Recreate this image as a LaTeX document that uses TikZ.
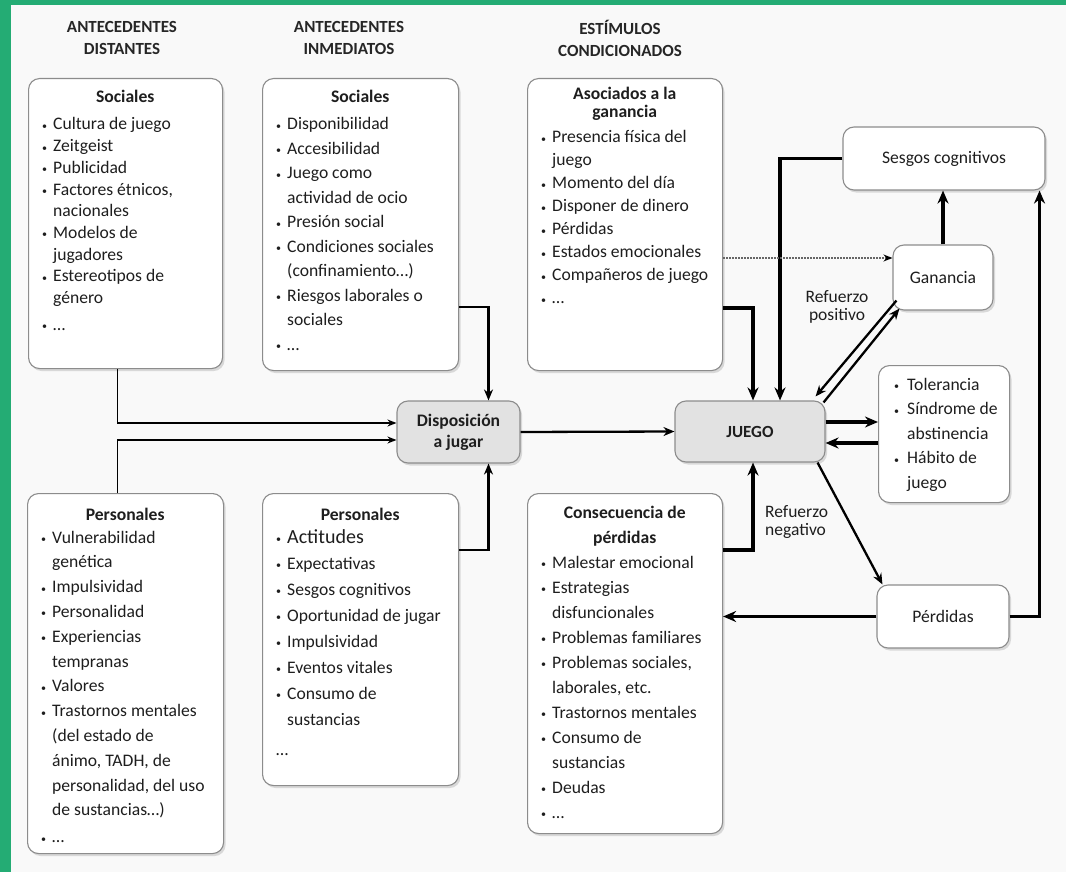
\documentclass[tikz,border=0pt]{standalone}
\usepackage{fontspec}
\setmainfont{Carlito}
\usetikzlibrary{arrows.meta,shadows,calc}
\definecolor{grn}{RGB}{36,172,116}
\definecolor{bgc}{RGB}{249,249,249}
\definecolor{bord}{RGB}{140,140,140}
\definecolor{txtc}{RGB}{30,30,30}
\definecolor{jfill}{RGB}{226,226,226}
\newcommand{\bul}{\makebox[11pt][l]{\raisebox{0.5pt}{\fontsize{10}{10}\selectfont\textbullet}}}
\newcommand{\tbul}{\makebox[13pt][l]{\raisebox{0.5pt}{\fontsize{10}{10}\selectfont\textbullet}}}
\newcommand{\cnt}{\hspace*{11pt}}
\newcommand{\tcnt}{\hspace*{13pt}}
\newcommand{\hd}[1]{\makebox[\dimexpr\linewidth-12pt\relax]{\textbf{#1}}}
\begin{document}
\begin{tikzpicture}[x=1pt,y=-1pt,
  bx/.style={draw=bord, line width=1.1pt, rounded corners=11pt, fill=white, inner sep=0pt,
    drop shadow={shadow xshift=2pt,shadow yshift=-2.5pt,opacity=0.22,fill=black!60}},
  gbx/.style={bx, fill=jfill},
  lst/.style={anchor=base west, inner sep=0pt, text=txtc},
  colh/.style={align=center, inner sep=0pt, text=black!85, font=\bfseries\fontsize{17}{22}\selectfont},
  lbl/.style={inner sep=0pt, text=txtc, font=\fontsize{17.5}{18.5}\selectfont},
  thinc/.style={line width=1.5pt, -{Stealth[length=9pt,width=7pt]}},
  medc/.style={line width=2.3pt, -{Stealth[length=11pt,width=9pt]}},
  thkc/.style={line width=3.2pt, -{Stealth[length=13pt,width=11pt]}},
  dotc/.style={line width=1.3pt, black!60, dash pattern=on 1.5pt off 1.5pt, -{Stealth[length=9pt,width=7pt,black]}}
]
\useasboundingbox (0,0) rectangle (1066,872);
\fill[grn] (0,0) rectangle (1066,872);
\fill[bgc] (11,5) rectangle (1066,872);

% column headings
\node[colh] (hA) at (122,38) {ANTECEDENTES\\DISTANTES};
\node[colh] (hB) at (349,38) {ANTECEDENTES\\INMEDIATOS};
\node[colh] (hC) at (620,38) {ESTÍMULOS\\CONDICIONADOS};

% big list boxes
\node[bx, anchor=north west, minimum width=194pt, minimum height=290pt] (A) at (28,78) {};
\node[bx, anchor=north west, minimum width=196pt, minimum height=292pt] (B) at (262,78) {};
\node[bx, anchor=north west, minimum width=195pt, minimum height=292pt] (C) at (527,78) {};
\node[bx, anchor=north west, minimum width=196pt, minimum height=360pt] (D) at (27,493) {};
\node[bx, anchor=north west, minimum width=196pt, minimum height=292pt] (E) at (262,493) {};
\node[bx, anchor=north west, minimum width=195pt, minimum height=340pt] (F) at (527,493) {};

\node[lst] (At) at (42,103) {\parbox[t]{178pt}{\fontsize{17.6}{21.7}\selectfont
\hd{Sociales}\\[5.3pt]
\bul Cultura de juego\\
\bul Zeitgeist\\
\bul Publicidad\\
\bul Factores étnicos,\\
\cnt nacionales\\
\bul Modelos de\\
\cnt jugadores\\
\bul Estereotipos de\\
\cnt género\\[5pt]
\bul \ldots}};

\node[lst] (Bt) at (276,103) {\parbox[t]{180pt}{\fontsize{17.6}{24.5}\selectfont
\hd{Sociales}\\[2.5pt]
\bul Disponibilidad\\
\bul Accesibilidad\\
\bul Juego como\\
\cnt actividad de ocio\\
\bul Presión social\\
\bul Condiciones sociales\\
\cnt (confinamiento\ldots)\\
\bul Riesgos laborales o\\
\cnt sociales\\
\bul \ldots}};

\node[lst] (Ct) at (541,100) {\parbox[t]{179pt}{\fontsize{17.6}{23}\selectfont
\hd{Asociados a la}\\[-5pt]
\hd{ganancia}\\[2pt]
\bul Presencia física del\\
\cnt juego\\
\bul Momento del día\\
\bul Disponer de dinero\\
\bul Pérdidas\\
\bul Estados emocionales\\
\bul Compañeros de juego\\
\bul \ldots}};

\node[lst] (Dt) at (41,520) {\parbox[t]{180pt}{\fontsize{17.6}{24.8}\selectfont
\hd{Personales}\\[-1.8pt]
\bul Vulnerabilidad\\
\cnt genética\\
\bul Impulsividad\\
\bul Personalidad\\
\bul Experiencias\\
\cnt tempranas\\
\bul Valores\\
\bul Trastornos mentales\\
\cnt (del estado de\\
\cnt ánimo, TADH, de\\
\cnt personalidad, del uso\\
\cnt de sustancias\ldots)\\[2pt]
\bul \ldots}};

\node[lst] (Et) at (276,520) {\parbox[t]{180pt}{\fontsize{17.6}{26}\selectfont
\hd{Personales}\\[-3pt]
\bul {\fontsize{20}{26}\selectfont Actitudes}\\
\bul Expectativas\\
\bul Sesgos cognitivos\\
\bul Oportunidad de jugar\\
\bul Impulsividad\\
\bul Eventos vitales\\
\bul Consumo de\\
\cnt sustancias\\[4pt]
\ldots}};

\node[lst] (Ft) at (541,518) {\parbox[t]{179pt}{\fontsize{17.6}{25}\selectfont
\hd{Consecuencia de}\\
\hd{pérdidas}\\
\bul Malestar emocional\\
\bul Estrategias\\
\cnt disfuncionales\\
\bul Problemas familiares\\
\bul Problemas sociales,\\
\cnt laborales, etc.\\
\bul Trastornos mentales\\
\bul Consumo de\\
\cnt sustancias\\
\bul Deudas\\
\bul \ldots}};

% small boxes
\node[bx, minimum width=202pt, minimum height=63pt, text=txtc, font=\fontsize{17.6}{20}\selectfont] (S) at (944,158.5) {Sesgos cognitivos};
\node[bx, minimum width=100pt, minimum height=65pt, text=txtc, font=\fontsize{17.6}{20}\selectfont] (G) at (943,277.5) {Ganancia};
\node[bx, anchor=north west, minimum width=131pt, minimum height=137pt] (T) at (878,365) {};
\node[lst] (Tt) at (894,390) {\parbox[t]{112pt}{\fontsize{17.6}{24.5}\selectfont
\tbul Tolerancia\\
\tbul Síndrome de\\
\tcnt abstinencia\\
\tbul Hábito de\\
\tcnt juego}};
\node[gbx, minimum width=150pt, minimum height=61pt, font=\bfseries\fontsize{17}{20}\selectfont, text=txtc] (J) at (750,431.5) {JUEGO};
\node[gbx, minimum width=123pt, minimum height=62pt, align=center, font=\bfseries\fontsize{17.6}{21}\selectfont, text=txtc] (Disp) at (458.5,432) {Disposición\\a jugar};
\node[bx, minimum width=132pt, minimum height=63pt, text=txtc, font=\fontsize{17.6}{20}\selectfont] (P) at (943,616.5) {Pérdidas};

% labels
\node[lbl, align=center] (lpos) at (837,307) {Refuerzo\\positivo};
\node[lbl, align=left, anchor=west] (lneg) at (765,522) {Refuerzo\\negativo};

% connectors
\draw[thinc] ([xshift=-8pt]A.south) |- ([yshift=9pt]Disp.west);
\draw[thinc] ([xshift=-8pt]D.north) |- ([yshift=-8pt]Disp.west);
\draw[medc] ([yshift=-229pt]B.north east) -| ([xshift=30pt]Disp.north);
\draw[medc] ([yshift=-57pt]E.north east) -| ([xshift=30pt]Disp.south);
\draw[medc] (Disp.east) -- (J.west);
\draw[thkc] ([yshift=-230pt]C.north east) -| ([xshift=3pt]J.north);
\draw[thkc] (S.west) -| ([xshift=30pt]J.north);
\coordinate (dots) at ([yshift=-180pt]C.north east);
\draw[dotc] (dots) -- (dots -| G.west);
\draw[thkc] (G.north) -- (G.north |- S.south);
\draw[medc] ([xshift=4pt,yshift=10pt]G.south west) -- ([xshift=-10pt,yshift=4pt]J.north east);
\draw[medc] ([xshift=-2pt,yshift=-2pt]J.north east) -- ([xshift=7pt,yshift=2pt]G.south west);
\coordinate (jt1) at ([yshift=9.5pt]J.east);
\coordinate (jt2) at ([yshift=-11.5pt]J.east);
\draw[thkc] (jt1) -- (jt1 -| T.west);
\draw[thkc] (jt2 -| T.west) -- (jt2);
\draw[medc] ([xshift=-8pt]J.south east) -- ([xshift=6pt]P.north west);
\draw[thkc] (P.west) -- (P.west -| F.east);
\draw[thkc] (P.east) -| ([xshift=-6pt]S.south east);
\draw[thkc] ([yshift=-57pt]F.north east) -| ([xshift=3pt]J.south);
\end{tikzpicture}
\end{document}
